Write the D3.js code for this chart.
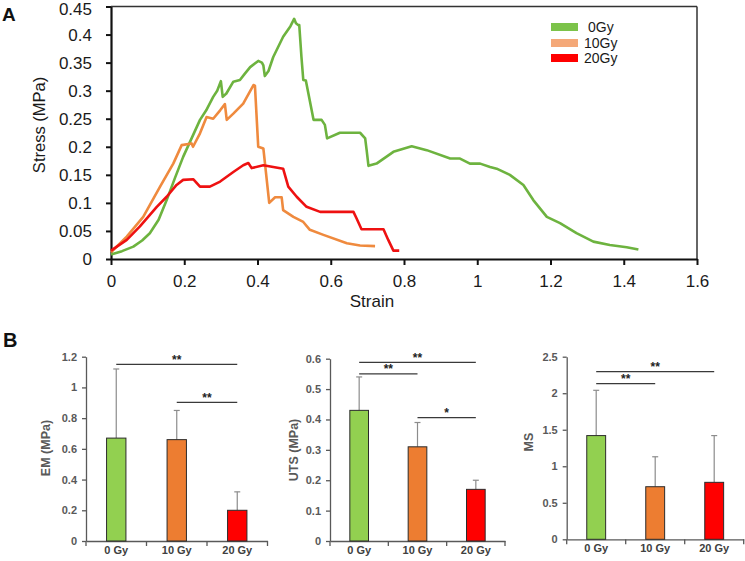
<!DOCTYPE html>
<html><head><meta charset="utf-8">
<script src="https://cdn.jsdelivr.net/npm/d3@7"></script>
<style>
html,body{margin:0;padding:0;background:#fff;}
svg{display:block;font-family:"Liberation Sans",Arial,sans-serif;}
</style></head>
<body>
<svg id="chart" width="745" height="561"></svg>
<script>
// ---------- Panel A data (strain, stress MPa) ----------
const series = ["0Gy", "10Gy", "20Gy"];
const curve0Gy = [[0,0.008],[0.03,0.014],[0.061,0.022],[0.085,0.033],[0.106,0.046],[0.13,0.07],[0.152,0.105],[0.175,0.145],[0.197,0.182],[0.22,0.215],[0.243,0.248],[0.26,0.265],[0.279,0.289],[0.29,0.3],[0.3,0.317],[0.305,0.289],[0.315,0.295],[0.334,0.316],[0.352,0.319],[0.365,0.33],[0.38,0.342],[0.402,0.353],[0.412,0.35],[0.416,0.345],[0.42,0.326],[0.43,0.335],[0.443,0.36],[0.47,0.396],[0.49,0.415],[0.5,0.428],[0.505,0.42],[0.511,0.417],[0.514,0.417],[0.52,0.36],[0.525,0.319],[0.532,0.318],[0.553,0.248],[0.575,0.248],[0.584,0.239],[0.59,0.215],[0.625,0.225],[0.68,0.225],[0.694,0.215],[0.698,0.194],[0.703,0.166],[0.725,0.17],[0.771,0.191],[0.821,0.201],[0.862,0.194],[0.926,0.179],[0.953,0.179],[0.98,0.17],[1.008,0.17],[1.035,0.164],[1.053,0.161],[1.089,0.15],[1.126,0.132],[1.153,0.105],[1.19,0.075],[1.226,0.064],[1.271,0.046],[1.317,0.031],[1.362,0.025],[1.408,0.021],[1.44,0.017]];
const curve10Gy = [[0,0.012],[0.043,0.04],[0.088,0.075],[0.134,0.129],[0.17,0.17],[0.193,0.203],[0.22,0.206],[0.224,0.2],[0.243,0.224],[0.261,0.253],[0.279,0.25],[0.298,0.265],[0.311,0.276],[0.316,0.248],[0.334,0.259],[0.361,0.277],[0.389,0.31],[0.393,0.309],[0.402,0.2],[0.416,0.197],[0.432,0.1],[0.448,0.11],[0.466,0.11],[0.47,0.087],[0.498,0.075],[0.525,0.066],[0.543,0.052],[0.58,0.043],[0.644,0.028],[0.68,0.024],[0.721,0.023]];
const curve20Gy = [[0,0.015],[0.043,0.034],[0.079,0.058],[0.125,0.093],[0.152,0.111],[0.179,0.132],[0.197,0.141],[0.225,0.142],[0.243,0.129],[0.27,0.129],[0.298,0.138],[0.334,0.155],[0.361,0.167],[0.375,0.171],[0.384,0.162],[0.416,0.167],[0.443,0.164],[0.47,0.161],[0.484,0.129],[0.507,0.111],[0.534,0.093],[0.571,0.084],[0.625,0.084],[0.662,0.084],[0.67,0.073],[0.684,0.053],[0.744,0.053],[0.757,0.034],[0.771,0.015],[0.787,0.015]];
const strainTicks = [0,0.2,0.4,0.6,0.8,1,1.2,1.4,1.6];
const stressTicks = [0,0.05,0.1,0.15,0.2,0.25,0.3,0.35,0.4,0.45];

// ---------- Panel B data ----------
const groups = ["0 Gy", "10 Gy", "20 Gy"];
const emMean = [0.67, 0.66, 0.20];
const emErr  = [0.45, 0.19, 0.12];
const utsMean = [0.43, 0.31, 0.17];
const utsErr  = [0.11, 0.08, 0.03];
const msMean = [1.42, 0.72, 0.78];
const msErr  = [0.62, 0.41, 0.64];
const emTicks = [0,0.2,0.4,0.6,0.8,1,1.2];
const utsTicks = [0,0.1,0.2,0.3,0.4,0.5,0.6];
const msTicks = [0,0.5,1,1.5,2,2.5];
// significance: [fromIndex, toIndex, level(data units), label]
const emSig  = [[0,2,1.15,"**"],[1,2,0.903,"**"]];
const utsSig = [[0,2,0.588,"**"],[0,1,0.55,"**"],[1,2,0.406,"*"]];
const msSig  = [[0,2,2.295,"**"],[0,1,2.13,"**"]];

const lineColors = ["#6db33f","#ef8a3e","#ee1111"];
const legendColors = ["#7cc34a","#f4a878","#ff0000"];
const barColors = ["#92d050","#ed7d31","#ff0000"];

const svg = d3.select("#chart");

// ================= Panel A =================
const x = d3.scaleLinear().domain([0,1.6]).range([111,697]);
const y = d3.scaleLinear().domain([0,0.45]).range([259,6.5]);
const gA = svg.append("g");

// box top/right
gA.append("line").attr("x1",x(0)).attr("x2",x(1.6)).attr("y1",y(0.45)).attr("y2",y(0.45)).attr("stroke","#333").attr("stroke-width",1.5);
gA.append("line").attr("x1",x(1.6)).attr("x2",x(1.6)).attr("y1",y(0.45)).attr("y2",y(0)).attr("stroke","#333").attr("stroke-width",1.5);

const fmt = d => String(+d.toFixed(2));
const xAx = gA.append("g").attr("transform",`translate(0,${y(0)})`)
  .call(d3.axisBottom(x).tickValues(strainTicks).tickFormat(fmt).tickSize(6).tickPadding(10).tickSizeOuter(0));
const yAx = gA.append("g").attr("transform",`translate(${x(0)},0)`)
  .call(d3.axisLeft(y).tickValues(stressTicks).tickFormat(fmt).tickSize(5).tickPadding(14).tickSizeOuter(0));
[xAx,yAx].forEach(a=>{
  a.select(".domain").attr("stroke","#111").attr("stroke-width",2.2);
  a.selectAll(".tick line").attr("stroke","#111").attr("stroke-width",2);
  a.selectAll(".tick text").attr("fill","#1a1a1a").style("font-size","17px").style("font-family","'Liberation Sans',Arial,sans-serif");
});
// keep top label inside the page
yAx.selectAll(".tick text").filter(d=>d===0.45).attr("dy","0.45em");

const line = d3.line().x(d=>x(d[0])).y(d=>y(d[1]));
[curve0Gy, curve10Gy, curve20Gy].forEach((c,i)=>{
  gA.append("path").datum(c).attr("d",line).attr("fill","none")
    .attr("stroke",lineColors[i]).attr("stroke-width",2.6).attr("stroke-linejoin","round");
});

// legend
const legY = [27,43,58];
const legTextX = [588,584,584];
series.forEach((s,i)=>{
  gA.append("line").attr("x1",551).attr("x2",578).attr("y1",legY[i]).attr("y2",legY[i])
    .attr("stroke",legendColors[i]).attr("stroke-width",8);
  gA.append("text").attr("x",legTextX[i]).attr("y",legY[i]+5).text(s)
    .style("font-size","14px").attr("fill","#1a1a1a");
});

gA.append("text").attr("transform","translate(45,125) rotate(-90)").attr("text-anchor","middle")
  .style("font-size","16.5px").attr("fill","#1a1a1a").text("Stress (MPa)");
gA.append("text").attr("x",372).attr("y",307).attr("text-anchor","middle")
  .style("font-size","17px").attr("fill","#1a1a1a").text("Strain");
svg.append("text").attr("x",2).attr("y",21).style("font-size","19px").style("font-weight","bold").attr("fill","#111").text("A");

// ================= Panel B =================
svg.append("text").attr("x",3).attr("y",347).style("font-size","20px").style("font-weight","bold").attr("fill","#111").text("B");

function barChart(cfg){
  const g = svg.append("g");
  const xb = d3.scaleBand().domain(groups).range([cfg.x0,cfg.x1]).padding(0);
  const yb = d3.scaleLinear().domain([0,cfg.max]).range([cfg.y0,cfg.yTop]);
  const bw = xb.bandwidth()*0.32;
  const axisCol = "#595959";
  const ya = g.append("g").attr("transform",`translate(${cfg.x0},0)`)
    .call(d3.axisLeft(yb).tickValues(cfg.ticks).tickFormat(d=>String(+d.toFixed(2))).tickSize(4).tickPadding(5).tickSizeOuter(0));
  ya.select(".domain").attr("stroke",axisCol).attr("stroke-width",1.3);
  ya.selectAll(".tick line").attr("stroke",axisCol).attr("stroke-width",1.3);
  ya.selectAll(".tick text").attr("fill",axisCol).style("font-size","11px").style("font-weight","bold");
  const xa = g.append("g").attr("transform",`translate(0,${cfg.y0})`)
    .call(d3.axisBottom(xb).tickSize(0).tickPadding(5));
  xa.select(".domain").attr("stroke",axisCol).attr("stroke-width",1.3);
  xa.selectAll(".tick text").attr("fill","#404040").style("font-size","11px").style("font-weight","bold");
  const bounds = groups.map(d=>xb(d)).concat([cfg.x1]);
  g.selectAll(".bt").data(bounds).join("line")
    .attr("x1",d=>d).attr("x2",d=>d).attr("y1",cfg.y0).attr("y2",cfg.y0+5)
    .attr("stroke",axisCol).attr("stroke-width",1.3);
  groups.forEach((gname,i)=>{
    const cx = xb(gname)+xb.bandwidth()/2;
    const top = yb(cfg.mean[i]+cfg.err[i]);
    g.append("line").attr("x1",cx).attr("x2",cx).attr("y1",yb(cfg.mean[i])).attr("y2",top).attr("stroke","#8c8c8c").attr("stroke-width",1.2);
    g.append("line").attr("x1",cx-3).attr("x2",cx+3).attr("y1",top).attr("y2",top).attr("stroke","#8c8c8c").attr("stroke-width",1.2);
  });
  g.selectAll(".bar").data(cfg.mean).join("rect")
    .attr("x",(d,i)=>xb(groups[i])+xb.bandwidth()/2-bw/2)
    .attr("y",d=>yb(d)).attr("width",bw).attr("height",d=>cfg.y0-yb(d))
    .attr("fill",(d,i)=>barColors[i]).attr("stroke","#2b2b2b").attr("stroke-width",1);
  cfg.sig.forEach(s=>{
    const xa0 = xb(groups[s[0]])+xb.bandwidth()/2;
    const xa1 = xb(groups[s[1]])+xb.bandwidth()/2;
    const yy = yb(s[2]);
    g.append("line").attr("x1",xa0).attr("x2",xa1).attr("y1",yy).attr("y2",yy).attr("stroke","#3a3a3a").attr("stroke-width",1.3);
    g.append("text").attr("x",(xa0+xa1)/2).attr("y",yy-0.5).attr("text-anchor","middle")
      .style("font-size","12px").style("font-weight","bold").attr("fill","#222").text(s[3]);
  });
  g.append("text").attr("transform",`translate(${cfg.labX},${cfg.labY}) rotate(-90)`).attr("text-anchor","middle")
    .style("font-size","12.5px").style("font-weight","bold").attr("fill",axisCol).text(cfg.label);
}

barChart({x0:86,x1:267.5,y0:541,yTop:356.7,max:1.2,ticks:emTicks,mean:emMean,err:emErr,sig:emSig,label:"EM (MPa)",labX:50,labY:448});
barChart({x0:330,x1:505,y0:541,yTop:358.7,max:0.6,ticks:utsTicks,mean:utsMean,err:utsErr,sig:utsSig,label:"UTS (MPa)",labX:298,labY:450});
barChart({x0:566.7,x1:743.7,y0:539.3,yTop:356.7,max:2.5,ticks:msTicks,mean:msMean,err:msErr,sig:msSig,label:"MS",labX:533,labY:442});
</script>
</body></html>
